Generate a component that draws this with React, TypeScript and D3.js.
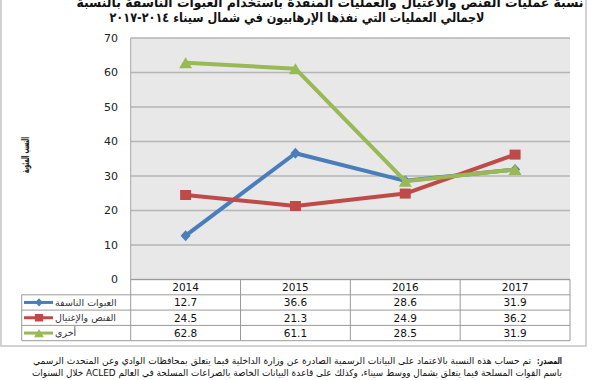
import React from "react";
import * as d3 from "d3";

const years = ["2014", "2015", "2016", "2017"];
const seriesNames = ["العبوات الناسفة", "القنص والإغتيال", "أخرى"];
const ied = [12.7, 36.6, 28.6, 31.9];
const sniping = [24.5, 21.3, 24.9, 36.2];
const other = [62.8, 61.1, 28.5, 31.9];
const yTicks = [0, 10, 20, 30, 40, 50, 60, 70];
const titleLines = [
  "نسبة عمليات القنص والاغتيال والعمليات المنفذة باستخدام العبوات الناسفة بالنسبة",
  "لاجمالي العمليات التي نفذها الإرهابيون في شمال سيناء ٢٠١٤-٢٠١٧",
];
const yLabel = "النسب المئوية";
const sourceBold = "المصدر:";
const sourceLine1 = "تم حساب هذه النسبة بالاعتماد على البيانات الرسمية الصادرة عن وزارة الداخلية فيما يتعلق بمحافظات الوادي وعن المتحدث الرسمي";
const sourceLine2 = "باسم القوات المسلحة فيما يتعلق بشمال ووسط سيناء، وكذلك على قاعدة البيانات الخاصة بالصراعات المسلحة في العالم ACLED خلال السنوات";

const colors = ["#4a7ebb", "#be4b48", "#98b954"];
const shapes = ["diamond", "square", "triangle"];
const seriesData = [ied, sniping, other];

const W = 600, H = 380;
const plotL = 130.7, plotR = 570, plotT = 38, plotB = 279.5;
const rowH = 15.3;
const tableL = 21.7;
const font = "'DejaVu Sans', Verdana, sans-serif";

function marker(shape: string, cx: number, cy: number, s = 1) {
  if (shape === "diamond") {
    const w = 5 * s, h = 5.5 * s;
    return `M${cx},${cy - h}L${cx + w},${cy}L${cx},${cy + h}L${cx - w},${cy}Z`;
  }
  if (shape === "square") {
    const w = 5.5 * s, h = 5 * s;
    return `M${cx - w},${cy - h}H${cx + w}V${cy + h}H${cx - w}Z`;
  }
  const w = 6.5 * s, h = 5.5 * s;
  return `M${cx},${cy - h}L${cx + w},${cy + h}L${cx - w},${cy + h}Z`;
}

export default function App() {
  const x = d3.scaleBand<string>().domain(years).range([plotL, plotR]).padding(0);
  const cx = (c: string) => (x(c) as number) + x.bandwidth() / 2;
  const y = d3.scaleLinear().domain([0, 70]).range([plotB, plotT]);
  const line = d3
    .line<number>()
    .x((_, i) => cx(years[i]))
    .y((d) => y(d));

  const rowTop = (r: number) => plotB + rowH * r;
  const tableBottom = rowTop(4);

  return (
    <svg
      width={W}
      height={H}
      style={{ position: "absolute", left: 0, top: 0, background: "#fff" }}
    >
      <rect x={1} y={-5} width={585} height={351} fill="#fff" stroke="#c4c4c4" strokeWidth={1.5} />

      <text x={330} y={7} textAnchor="middle" direction="rtl" fontFamily={font} fontWeight="bold" fontSize={13} fill="#111" textLength={507} lengthAdjust="spacingAndGlyphs">
        {titleLines[0]}
      </text>
      <text x={297} y={22} textAnchor="middle" direction="rtl" fontFamily={font} fontWeight="bold" fontSize={13} fill="#111" textLength={375} lengthAdjust="spacingAndGlyphs">
        {titleLines[1]}
      </text>

      <rect x={plotL} y={plotT} width={plotR - plotL} height={plotB - plotT} fill="#e8e8e8" />
      {yTicks.map((t) => (
        <line key={t} x1={plotL} x2={plotR} y1={y(t)} y2={y(t)} stroke="#b5b5b5" strokeWidth={1.6} />
      ))}
      <line x1={plotL} x2={plotL} y1={plotT} y2={plotB} stroke="#a8a8a8" strokeWidth={1} />
      {yTicks.map((t) => (
        <text key={t} x={118} y={y(t)} dy="0.35em" textAnchor="end" fontFamily={font} fontSize={11} fill="#222">
          {t}
        </text>
      ))}
      <text transform={`translate(29,155) rotate(-90)`} textAnchor="middle" direction="rtl" fontFamily={font} fontWeight="bold" fontSize={11} fill="#111" textLength={36} lengthAdjust="spacingAndGlyphs">
        {yLabel}
      </text>

      {seriesData.map((vals, si) => (
        <g key={si}>
          <path d={line(vals) as string} fill="none" stroke={colors[si]} strokeWidth={4} strokeLinejoin="round" />
          {vals.map((v, i) => (
            <path key={i} d={marker(shapes[si], cx(years[i]), y(v))} fill={colors[si]} />
          ))}
        </g>
      ))}

      <g fontFamily={font} fill="#111">
        <line x1={plotL} x2={plotR} y1={rowTop(0)} y2={rowTop(0)} stroke="#9a9a9a" />
        {[1, 2, 3, 4].map((r) => (
          <line key={r} x1={tableL} x2={plotR} y1={rowTop(r)} y2={rowTop(r)} stroke="#9a9a9a" />
        ))}
        <line x1={tableL} x2={tableL} y1={rowTop(1)} y2={tableBottom} stroke="#9a9a9a" />
        {years.map((c) => (
          <line key={c} x1={x(c) as number} x2={x(c) as number} y1={rowTop(0)} y2={tableBottom} stroke="#9a9a9a" />
        ))}
        <line x1={plotR} x2={plotR} y1={rowTop(0)} y2={tableBottom} stroke="#9a9a9a" />
        {years.map((c) => (
          <text key={c} x={cx(c)} y={rowTop(0) + rowH / 2} dy="0.36em" textAnchor="middle" fontSize={10.5}>
            {c}
          </text>
        ))}
        {seriesData.map((vals, si) => {
          const my = rowTop(si + 1) + rowH / 2;
          return (
            <g key={si}>
              <line x1={24} x2={53} y1={my} y2={my} stroke={colors[si]} strokeWidth={3} />
              <path d={marker(shapes[si], 39, my, 0.75)} fill={colors[si]} />
              <text x={55} y={my} dy="0.35em" textAnchor="start" fontSize={9.5} fill="#333">
                {seriesNames[si]}
              </text>
              {vals.map((v, i) => (
                <text key={i} x={cx(years[i])} y={my} dy="0.36em" textAnchor="middle" fontSize={10.5}>
                  {v.toFixed(1)}
                </text>
              ))}
            </g>
          );
        })}
      </g>

      <text x={562} y={363.5} textAnchor="start" direction="rtl" fontFamily={font} fontWeight="bold" fontSize={9.5} fill="#111" textLength={25} lengthAdjust="spacingAndGlyphs">
        {sourceBold}
      </text>
      <text x={282} y={363.5} textAnchor="middle" direction="rtl" fontFamily={font} fontSize={9.5} fill="#111" textLength={498} lengthAdjust="spacingAndGlyphs">
        {sourceLine1}
      </text>
      <text x={297} y={375.5} textAnchor="middle" direction="rtl" fontFamily={font} fontSize={9.5} fill="#111" textLength={530} lengthAdjust="spacingAndGlyphs">
        {sourceLine2}
      </text>
    </svg>
  );
}
